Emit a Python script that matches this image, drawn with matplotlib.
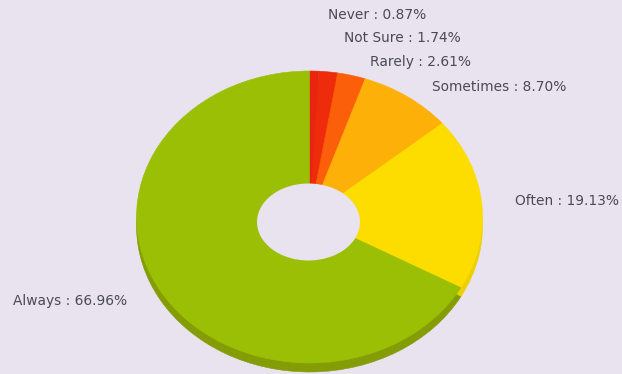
import matplotlib
matplotlib.use('Agg')
import matplotlib.pyplot as plt
from matplotlib.patches import Ellipse

W, H = 622, 374
BG = '#e8e3ef'

categories = ['Never', 'Not Sure', 'Rarely', 'Sometimes', 'Often', 'Always']
values = [0.87, 1.74, 2.61, 8.70, 19.13, 66.96]
value_labels = ['0.87%', '1.74%', '2.61%', '8.70%', '19.13%', '66.96%']
colors = ['#e8260f', '#ee2c0c', '#fb5f0a', '#fdb008', '#fddc00', '#9bbf04']
dark_colors = ['#d0200c', '#d4220a', '#e05208', '#e09a06', '#ecd000', '#849c06']
label_pos = [(328, 15), (344, 38), (370, 62), (432, 87), (515, 201), (13, 301)]

# ring geometry in pixels
cx, cy = 309.5, 217
rx, ry = 173, 146
depth = 9
hole_x, hole_y, hole_w, hole_h = 308.5, 222, 103, 77


def ring_axes(fig, dy):
    ax = fig.add_axes([(cx - rx) / W, 1 - (cy + dy + ry) / H, 2 * rx / W, 2 * ry / H])
    ax.patch.set_visible(False)
    return ax


fig = plt.figure(figsize=(W / 100, H / 100), dpi=100, facecolor=BG)

# darker copy shifted down gives the 3D side wall
base = ring_axes(fig, depth)
wedges, _ = base.pie(values, colors=dark_colors, startangle=90, counterclock=False, radius=1)
for w in wedges:
    w.set_edgecolor(w.get_facecolor())
    w.set_linewidth(0.4)
base.set_aspect('auto')
base.set_xlim(-1, 1)
base.set_ylim(-1, 1)

top = ring_axes(fig, 0)
wedges, _ = top.pie(values, colors=colors, startangle=90, counterclock=False, radius=1)
for w in wedges:
    w.set_edgecolor(w.get_facecolor())
    w.set_linewidth(0.4)
top.set_aspect('auto')
top.set_xlim(-1, 1)
top.set_ylim(-1, 1)
top.add_patch(Ellipse(((hole_x - cx) / rx, (cy - hole_y) / ry), hole_w / rx, hole_h / ry,
                      facecolor=BG, edgecolor='none', zorder=5))

for cat, lab, (x, y) in zip(categories, value_labels, label_pos):
    fig.text(x / W, 1 - y / H, f'{cat} : {lab}', fontsize=9.9, color='#4a4a55',
             ha='left', va='center', family='DejaVu Sans')

fig.savefig('out.png', dpi=100, facecolor=BG)
